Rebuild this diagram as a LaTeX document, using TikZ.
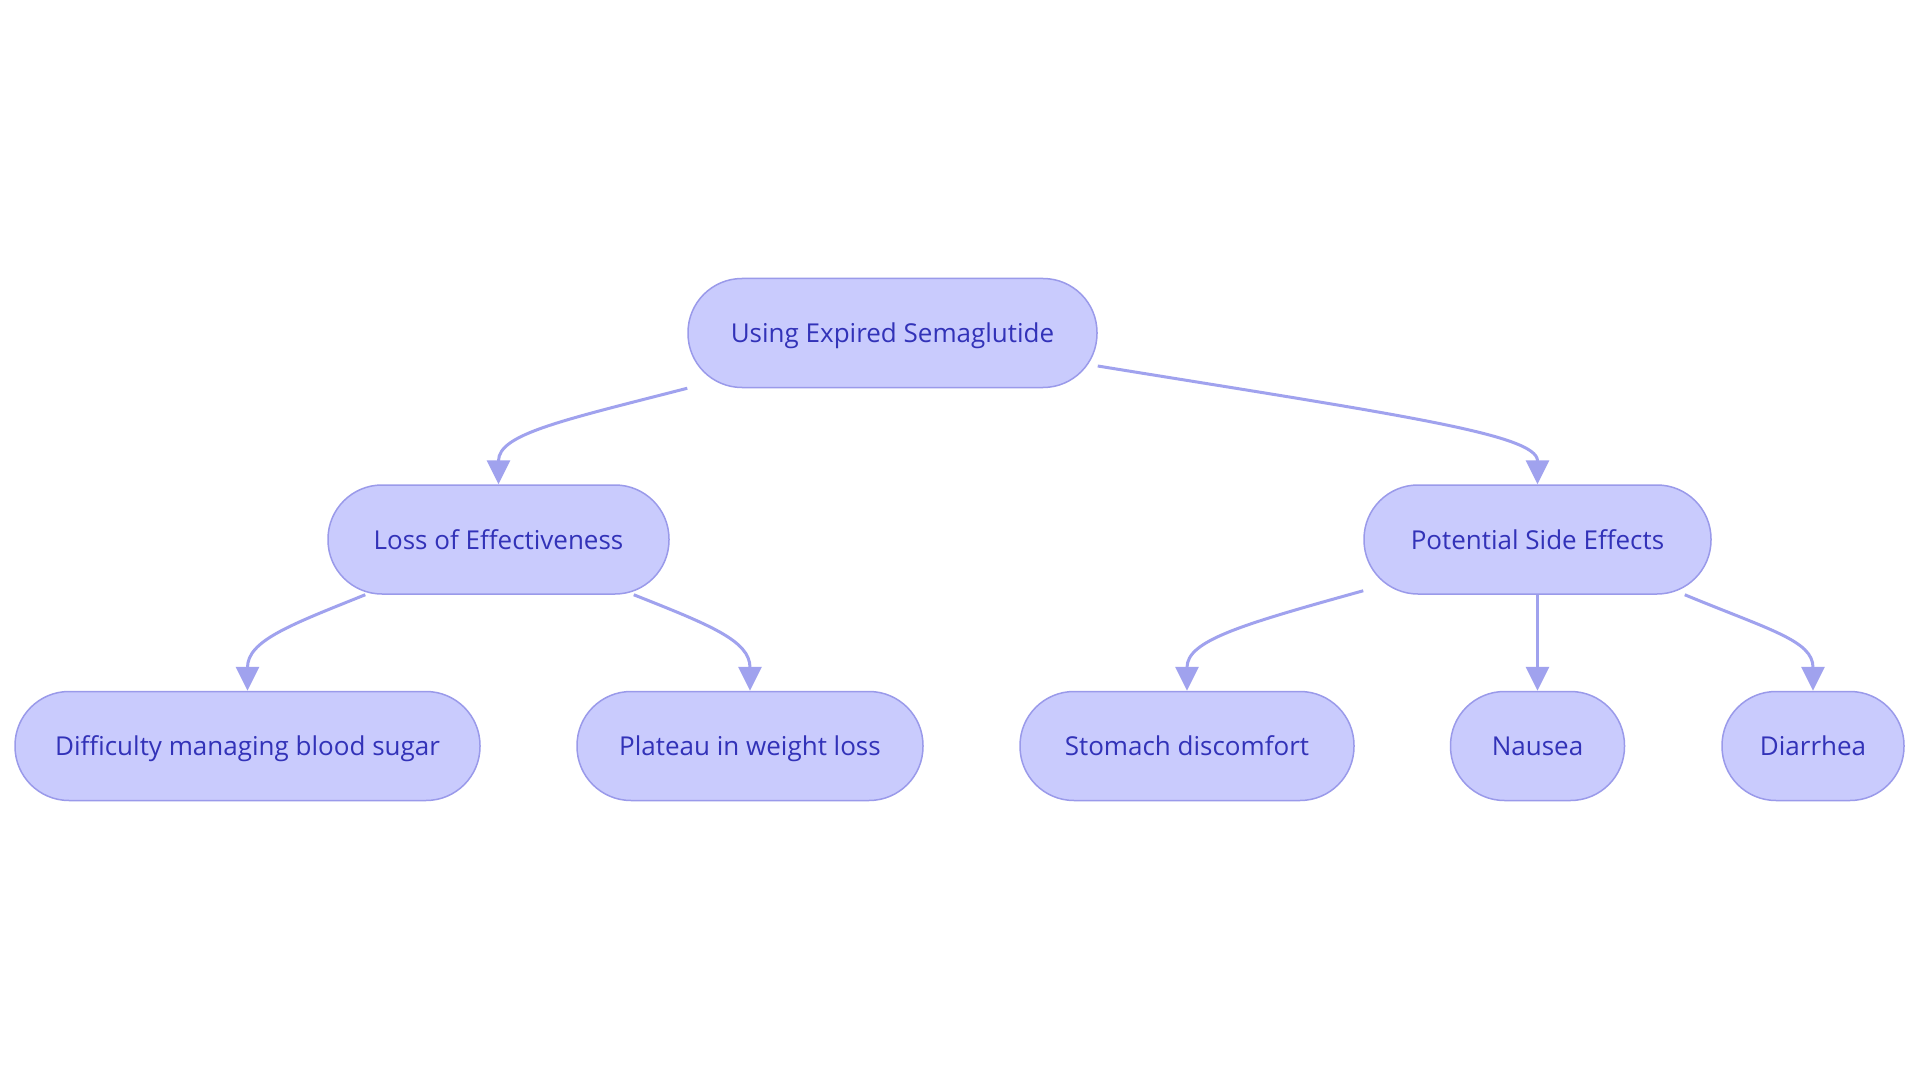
\documentclass[tikz,border=0pt]{standalone}
\usepackage{fontspec}
\setmainfont{Open Sans}
\usetikzlibrary{arrows.meta,calc}
\definecolor{nodefill}{HTML}{C9CBFD}
\definecolor{nodeborder}{HTML}{9A9AEA}
\definecolor{edgecol}{HTML}{A0A2EE}
\definecolor{textcol}{HTML}{3232B8}
\tikzset{
  pill/.style={rectangle, rounded corners=54pt, fill=nodefill, draw=nodeborder,
    line width=1.5pt, minimum height=109pt, inner sep=0pt, text=textcol,
    font=\fontsize{26}{30}\selectfont, text height=19pt, text depth=0pt},
  link/.style={draw=edgecol, line width=3pt,
    -{Triangle[length=24pt,width=23pt]}}
}
\begin{document}
\begin{tikzpicture}[x=1pt,y=-1pt]
\useasboundingbox[fill=white] (0,0) rectangle (1920,1083);
\node[pill, minimum width=409pt] (root) at (892.5,333) {Using Expired Semaglutide};
\node[pill, minimum width=341pt] (loss) at (498.5,539.5) {Loss of Effectiveness};
\node[pill, minimum width=347pt] (side) at (1537.5,539.5) {Potential Side Effects};
\node[pill, minimum width=465pt] (diff) at (247.5,746) {Difficulty managing blood sugar};
\node[pill, minimum width=346pt] (plat) at (750,746) {Plateau in weight loss};
\node[pill, minimum width=334pt] (stom) at (1187,746) {Stomach discomfort};
\node[pill, minimum width=174pt] (naus) at (1537.5,746) {Nausea};
\node[pill, minimum width=182pt] (diar) at (1813,746) {Diarrhea};

\draw[link] (root.south west) .. controls (560,421) and ($(loss.north)+(0,-50)$) .. (loss.north);
\draw[link] ($(root.east)+(0,33)$) .. controls (1400,415) and ($(side.north)+(0,-50)$) .. (side.north);
\draw[link] ($(loss.south west)+(38,0)$) .. controls (290,625) and ($(diff.north)+(0,-50)$) .. (diff.north);
\draw[link] ($(loss.south east)+(-36,0)$) .. controls (710,625) and ($(plat.north)+(0,-50)$) .. (plat.north);
\draw[link] ($(side.south west)+(0,-4)$) .. controls (1240,625) and ($(stom.north)+(0,-50)$) .. (stom.north);
\draw[link] (side.south) -- (naus.north);
\draw[link] ($(side.south east)+(-27,0)$) .. controls (1770,630) and ($(diar.north)+(0,-50)$) .. (diar.north);
\end{tikzpicture}
\end{document}
